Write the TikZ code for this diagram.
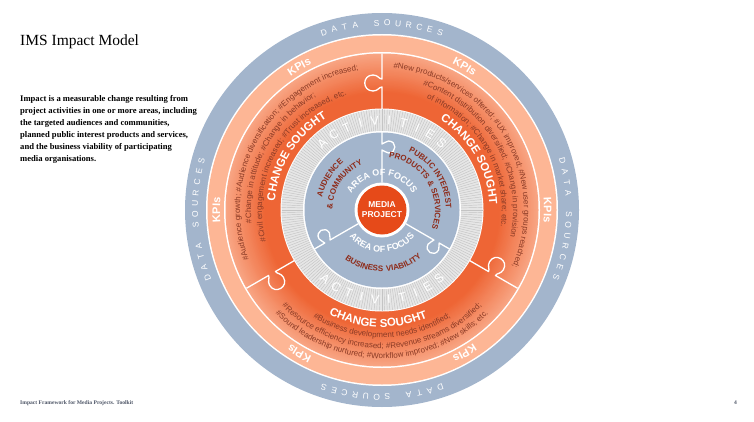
\documentclass[tikz,border=0pt]{standalone}
\usepackage{fontspec}
\setmainfont{Liberation Serif}
\setsansfont{Liberation Sans}
\newfontfamily\spacedsans[LetterSpace=12]{Liberation Sans}
\usetikzlibrary{decorations.text}

\definecolor{ringblue}{HTML}{A3B5CC}
\definecolor{kpisalmon}{HTML}{FDB695}
\definecolor{chgdark}{HTML}{EE6535}
\definecolor{chglight}{HTML}{F8A583}
\definecolor{actgrey}{HTML}{E6E6E6}
\definecolor{actstripe}{HTML}{C4C4C4}
\definecolor{mediared}{HTML}{E64A19}
\definecolor{focusred}{HTML}{8E2A18}
\definecolor{hashbrown}{HTML}{8A3A25}
\definecolor{footgrey}{HTML}{4D5566}

\newcommand\hashfont{\sffamily\fontsize{8}{8}\selectfont}
\newcommand\chgfont{\sffamily\bfseries\fontsize{11.5}{11.5}\selectfont}
\newcommand\kpifont{\sffamily\bfseries\fontsize{11}{11}\selectfont}
\newcommand\focusfont{\sffamily\bfseries\fontsize{9}{9}\selectfont}
\newcommand\labelfont{\sffamily\bfseries\fontsize{8}{8}\selectfont}
\newcommand\spacedlabelfont{\spacedsans\bfseries\fontsize{8}{8}\selectfont}

% texts along the rings (# and & as plain characters)
\begingroup
\catcode`\#=12 \catcode`\&=12
\gdef\txtLa{|\hashfont|#Audience growth; #Audience diversification; #Engagement increased;}
\gdef\txtLb{|\hashfont|#Change in attitude; #Change in behavior;}
\gdef\txtLc{|\hashfont|#Civil engagement increased; #Trust increased, etc.}
\gdef\txtRa{|\hashfont|#New products/services offered; #UX improved; #New user groups reached;}
\gdef\txtRb{|\hashfont|#Content distribution diversified; #Change in provision}
\gdef\txtRc{|\hashfont|of information; #Change in market share; etc.}
\gdef\txtBa{|\hashfont|#Business development needs identified;}
\gdef\txtBb{|\hashfont|#Resource efficiency increased; #Revenue streams diversified;}
\gdef\txtBc{|\hashfont|#Sound leadership nurtured; #Workflow improved; #New skills; etc.}
\gdef\txtChange{|\chgfont|CHANGE SOUGHT}
\gdef\txtKpi{|\kpifont|KPIs}
\gdef\txtFocus{|\focusfont|AREA OF FOCUS}
\gdef\txtAud{|\labelfont|AUDIENCE}
\gdef\txtComm{|\labelfont|& COMMUNITY}
\gdef\txtPub{|\labelfont|PUBLIC INTEREST}
\gdef\txtProd{|\labelfont|PRODUCTS & SERVICES}
\gdef\txtBiz{|\spacedlabelfont|BUSINESS VIABILITY}
\endgroup

\tikzset{
  knobline/.style={white, line width=1.3pt, line join=round},
  dsletter/.style={text=white, font=\sffamily\fontsize{8.5}{8.5}\selectfont, inner sep=0pt},
  actletter/.style={text=white, font=\sffamily\fontsize{12.5}{12.5}\selectfont, inner sep=0pt},
  hashtext/.style={decorate, decoration={text along path, text align=center, text color=hashbrown, text/.expand once=#1}},
  whitetext/.style={decorate, decoration={text along path, text align=center, text color=white, text/.expand once=#1}},
  redtext/.style={decorate, decoration={text along path, text align=center, text color=focusred, text/.expand once=#1}},
}

\begin{document}
\begin{tikzpicture}[x=1pt,y=1pt]
\useasboundingbox (0,0) rectangle (754,421);

% Left column
\node[anchor=base west, inner sep=0pt, font=\fontsize{15.5}{16}\selectfont] (title) at (20,375) {IMS Impact Model};
\node[anchor=north west, align=left, inner sep=0pt, font=\bfseries\fontsize{8.6}{12.1}\selectfont] (intro) at (20,326)
  {Impact is a measurable change resulting from\\
   project activities in one or more areas, including\\
   the targeted audiences and communities,\\
   planned public interest products and services,\\
   and the business viability of participating\\
   media organisations.};
\node[anchor=base west, inner sep=0pt, text=footgrey, font=\bfseries\fontsize{5.6}{6}\selectfont] (footer) at (20,17) {Impact Framework for Media Projects. Toolkit};
\node[anchor=base east, inner sep=0pt, text=footgrey, font=\bfseries\fontsize{5.6}{6}\selectfont] (pageno) at (737,17) {4};

\begin{scope}[shift={(382,211)}]
% Rings
\fill[ringblue] (0,0) circle (197pt);
\fill[white] (0,0) circle (176pt);
\fill[kpisalmon] (0,0) circle (174.5pt);
\fill[white] (0,0) circle (158pt);
\foreach \i in {0,...,36}{
  \pgfmathsetmacro\rr{156.5-1.5*\i}
  \pgfmathtruncatemacro\pp{max(0,100-100*\i/26)}
  \fill[chglight!\pp!chgdark] (0,0) circle (\rr pt);
}
% Puzzle joints, change sought
\foreach \a in {90,210,330}
  \draw[knobline, rotate=\a] (101,0) -- (123,0) .. controls (123,3) and (119,4) .. (119,9)
    .. controls (119,20) and (135,20) .. (135,9) .. controls (135,4) and (131,3) .. (131,0) -- (156.5,0);

% Activities
\fill[white] (0,0) circle (101.5pt);
\fill[actgrey] (0,0) circle (100.5pt);
\foreach \a in {0,1.5,...,358.5}
  \draw[actstripe, line width=0.45pt] (\a:79pt) -- (\a:100.5pt);
\fill[white] (0,0) circle (79pt);

% Areas of focus
\fill[ringblue] (0,0) circle (77.5pt);
\foreach \a in {90,210,330}
  \draw[knobline, rotate=\a] (27.5,0) -- (60,0) .. controls (60,-2.5) and (57,-3) .. (57,-6.5)
    .. controls (57,-15) and (69,-15) .. (69,-6.5) .. controls (69,-3) and (66,-2.5) .. (66,0) -- (78,0);
\fill[white] (0,0) circle (27.5pt);
\node[circle, fill=mediared, minimum size=49pt, inner sep=0pt, text=white, align=center,
  font=\sffamily\bfseries\fontsize{8.5}{10}\selectfont] (media) at (0,0) {MEDIA\\PROJECT};

% Data sources
\foreach \c in {90,-3,-90,183}
  \foreach \l [count=\i] in {D,A,T,A,{},S,O,U,R,C,E,S}{
    \pgfmathsetmacro\ang{\c+(6.5-\i)*3.3}
    \node[dsletter, rotate=\ang-90] (ds\i) at (\ang:187pt) {\l};
  }

% KPIs
\foreach \a in {0,60,...,300}
  \path[whitetext=\txtKpi] (\a+15:162pt) arc[start angle=\a+15, end angle=\a-15, radius=162pt];

% Change sought
\path[whitetext=\txtChange] (178:107.5pt) arc[start angle=178, end angle=118, radius=107.5pt];
\path[whitetext=\txtChange] (60:107.5pt) arc[start angle=60, end angle=0, radius=107.5pt];
\path[whitetext=\txtChange] (238:117pt) arc[start angle=238, end angle=298, radius=117pt];

\path[hashtext=\txtLa] (215:142pt) arc[start angle=215, end angle=85, radius=142pt];
\path[hashtext=\txtLb] (218:131pt) arc[start angle=218, end angle=88, radius=131pt];
\path[hashtext=\txtLc] (216:120pt) arc[start angle=216, end angle=86, radius=120pt];

\path[hashtext=\txtRa] (96:142pt) arc[start angle=96, end angle=-34, radius=142pt];
\path[hashtext=\txtRb] (95:131pt) arc[start angle=95, end angle=-35, radius=131pt];
\path[hashtext=\txtRc] (95:120pt) arc[start angle=95, end angle=-35, radius=120pt];

\path[hashtext=\txtBa] (200:127.5pt) arc[start angle=200, end angle=340, radius=127.5pt];
\path[hashtext=\txtBb] (200:138.5pt) arc[start angle=200, end angle=340, radius=138.5pt];
\path[hashtext=\txtBc] (200:148.5pt) arc[start angle=200, end angle=340, radius=148.5pt];

% Activities lettering
\foreach \l [count=\i] in {A,C,T,I,V,I,T,I,E,S}{
  \pgfmathsetmacro\ang{90+(5.5-\i)*9.3}
  \node[actletter, rotate=\ang-90] (actt\i) at (\ang:89.5pt) {\l};
}
\foreach \l [count=\i] in {A,C,T,I,V,I,T,I,E,S}{
  \pgfmathsetmacro\ang{270-(5.5-\i)*8.8}
  \node[actletter, rotate=\ang+90] (actb\i) at (\ang:89.5pt) {\l};
}

% Area of focus labels
\path[whitetext=\txtFocus] (175:34.5pt) arc[start angle=175, end angle=5, radius=34.5pt];
\path[whitetext=\txtFocus] (200:42pt) arc[start angle=200, end angle=340, radius=42pt];
\path[redtext=\txtAud] (175:61pt) arc[start angle=175, end angle=122, radius=61pt];
\path[redtext=\txtComm] (190:49.5pt) arc[start angle=190, end angle=102, radius=49.5pt];
\path[redtext=\txtPub] (80:64pt) arc[start angle=80, end angle=-13, radius=64pt];
\path[redtext=\txtProd] (90:53pt) arc[start angle=90, end angle=-28, radius=53pt];
\path[redtext=\txtBiz] (215:61.5pt) arc[start angle=215, end angle=328, radius=61.5pt];
\end{scope}
\end{tikzpicture}
\end{document}
